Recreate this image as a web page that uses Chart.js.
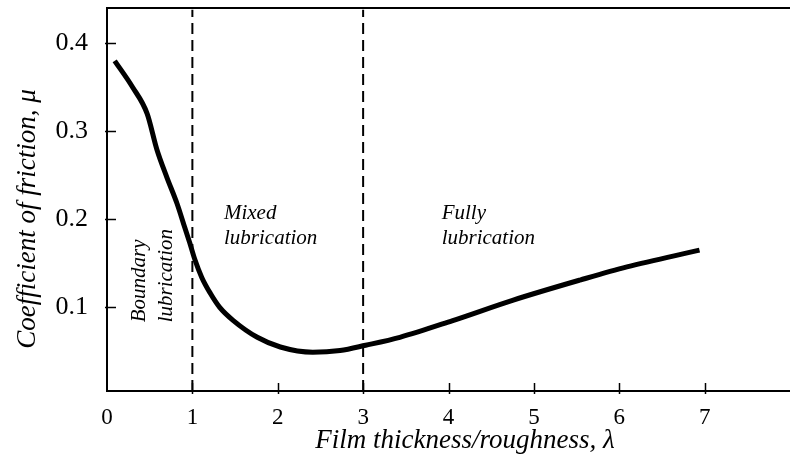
<!DOCTYPE html>
<html lang="en">
<head>
<meta charset="UTF-8">
<title>Coefficient of friction vs film thickness</title>
<script src="https://cdn.jsdelivr.net/npm/chart.js"></script>
<style>
    html, body { margin: 0; padding: 0; background: #fff; }
    #wrap { width: 790px; height: 468px; }
</style>
</head>
<body>
<div id="wrap"><canvas id="grafico"></canvas></div>
<script>
// curve
const lambda = [0.09, 0.30, 0.47, 0.585, 0.70, 0.82, 0.91, 0.97, 1.03, 1.11, 1.21, 1.32, 1.48, 1.76, 2.03, 2.41, 2.73, 3.03, 3.43, 4.05, 4.75, 5.54, 6.09, 6.94];
const mu = [0.380, 0.350, 0.320, 0.279, 0.248, 0.218, 0.191, 0.173, 0.154, 0.134, 0.116, 0.100, 0.085, 0.066, 0.055, 0.049, 0.051, 0.057, 0.066, 0.085, 0.108, 0.131, 0.146, 0.165];

// regime boundaries (dashed lines)
const boundaries = [1, 3];

const xTicks = [0, 1, 2, 3, 4, 5, 6, 7];
const yTicks = [0.1, 0.2, 0.3, 0.4];
const xMin = 0, xMax = 8;
const yMin = 0.005, yMax = 0.44;

const regionLabels = [
    { lines: ['Mixed', 'lubrication'], x: 1.37, y: 0.207 },
    { lines: ['Fully', 'lubrication'], x: 3.92, y: 0.207 }
];
const boundaryLabel = { lines: ['Boundary', 'lubrication'], x: 0.44, y: 0.083 };

const serif = '"Liberation Serif", "Times New Roman", serif';

const datasets = [{
    data: lambda.map((x, i) => ({ x, y: mu[i] })),
    borderColor: '#000',
    borderWidth: 5,
    pointRadius: 0,
    cubicInterpolationMode: 'monotone',
    fill: false
}];
boundaries.forEach(b => {
    datasets.push({
        data: [{ x: b, y: yMin }, { x: b, y: yMax - 0.002 }],
        borderColor: '#000',
        borderWidth: 2,
        borderDash: [11, 6],
        pointRadius: 0,
        fill: false
    });
});

const decor = {
    id: 'decor',
    afterDatasetsDraw(chart) {
        const ctx = chart.ctx;
        const area = chart.chartArea;
        const xs = chart.scales.x, ys = chart.scales.y;
        ctx.save();
        ctx.strokeStyle = '#000';
        ctx.lineWidth = 2;
        // top frame line
        ctx.beginPath();
        ctx.moveTo(area.left - 1, area.top);
        ctx.lineTo(chart.width, area.top);
        ctx.stroke();
        // inward tick marks
        ctx.lineWidth = 1.5;
        xTicks.forEach(v => {
            if (v === 0) return;
            const px = Math.round(xs.getPixelForValue(v)) + 0.5;
            ctx.beginPath();
            ctx.moveTo(px, area.bottom - 8);
            ctx.lineTo(px, area.bottom + 3);
            ctx.stroke();
        });
        yTicks.forEach(v => {
            const py = Math.round(ys.getPixelForValue(v)) + 0.5;
            ctx.beginPath();
            ctx.moveTo(area.left - 2, py);
            ctx.lineTo(area.left + 9, py);
            ctx.stroke();
        });

        // region labels
        ctx.fillStyle = '#000';
        ctx.font = 'italic 21px ' + serif;
        ctx.textAlign = 'left';
        ctx.textBaseline = 'middle';
        regionLabels.forEach(r => {
            const px = xs.getPixelForValue(r.x);
            const py = ys.getPixelForValue(r.y);
            r.lines.forEach((t, i) => ctx.fillText(t, px, py + i * 25));
        });
        // rotated boundary label
        ctx.save();
        ctx.translate(xs.getPixelForValue(boundaryLabel.x), ys.getPixelForValue(boundaryLabel.y));
        ctx.rotate(-Math.PI / 2);
        ctx.textBaseline = 'alphabetic';
        boundaryLabel.lines.forEach((t, i) => ctx.fillText(t, 0, i * 27));
        ctx.restore();

        // axis titles
        ctx.font = 'italic 27px ' + serif;
        ctx.textAlign = 'center';
        ctx.textBaseline = 'alphabetic';
        ctx.fillText('Film thickness/roughness, \u03bb', 465, 448);
        ctx.save();
        ctx.translate(35, 219);
        ctx.rotate(-Math.PI / 2);
        ctx.fillText('Coefficient of friction, \u03bc', 0, 0);
        ctx.restore();
        ctx.restore();
    }
};

new Chart(document.getElementById('grafico'), {
    type: 'line',
    data: { datasets },
    options: {
        responsive: true,
        maintainAspectRatio: false,
        animation: false,
        layout: { padding: { top: 8, right: 0, left: 0, bottom: 0 } },
        plugins: { legend: { display: false }, tooltip: { enabled: false } },
        scales: {
            x: {
                type: 'linear',
                min: xMin, max: xMax,
                afterBuildTicks: s => { s.ticks = xTicks.map(v => ({ value: v })); },
                afterFit: s => { s.height = 77; s.paddingLeft = 0; s.paddingRight = 0; },
                grid: { drawOnChartArea: false, drawTicks: false },
                border: { color: '#000', width: 2 },
                ticks: { color: '#000', padding: 13, font: { family: serif, size: 23 }, maxRotation: 0 }
            },
            y: {
                type: 'linear',
                min: yMin, max: yMax,
                afterBuildTicks: s => { s.ticks = yTicks.map(v => ({ value: v })); },
                afterFit: s => { s.width = 107; s.paddingTop = 0; s.paddingBottom = 0; },
                grid: { drawOnChartArea: false, drawTicks: false },
                border: { color: '#000', width: 2 },
                ticks: { color: '#000', padding: 19, font: { family: serif, size: 26 }, callback: v => v.toFixed(1) }
            }
        }
    },
    plugins: [decor]
});
</script>
</body>
</html>
